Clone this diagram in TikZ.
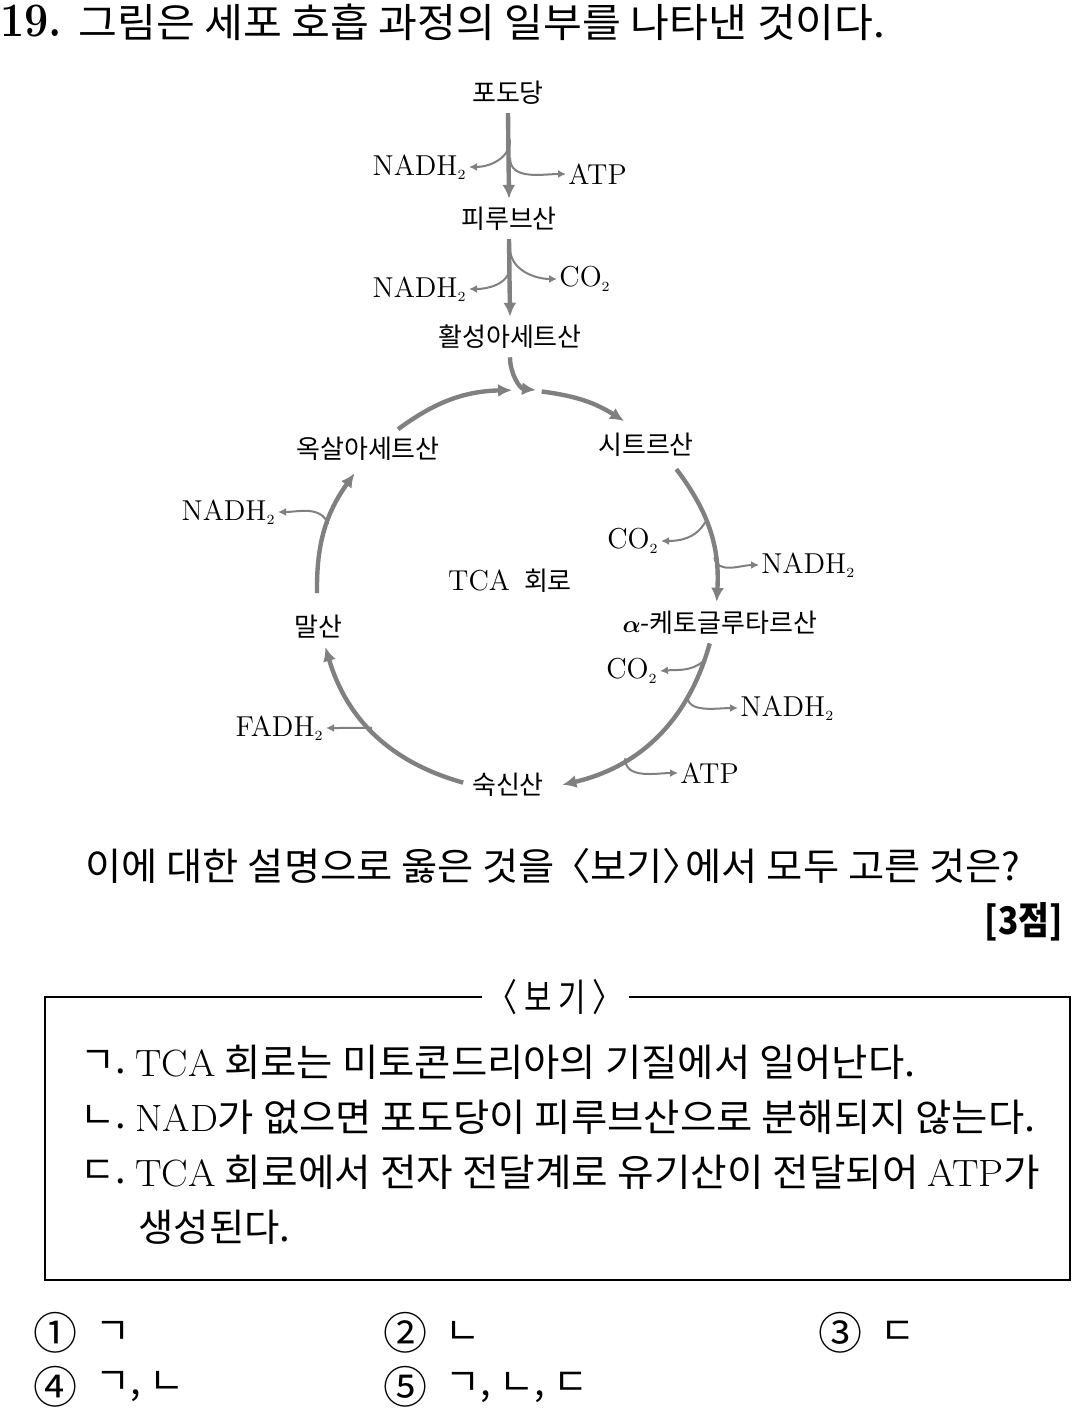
\documentclass[tikz,border=0pt]{standalone}
\usepackage{fontspec}
\usepackage{amsmath}
\usepackage{graphicx}
\newfontfamily\kr{Noto Sans CJK KR}
\usepackage{xcolor}
\definecolor{flowgray}{RGB}{128,128,128}
\usepackage{tikz}
\usetikzlibrary{arrows.meta, calc}
\tikzstyle{metabolite} = [
    font=\kr\fontsize{13}{15}\selectfont,
    inner sep=4pt,
]
\tikzstyle{product} = [
    font=\fontsize{14.4}{16}\selectfont,
    inner sep=1pt,
]
\tikzstyle{mainflow} = [
    draw=flowgray, line width=2.2pt,
    -{Latex[length=7pt,width=6.5pt]},
]
\tikzstyle{sideflow} = [
    draw=flowgray, line width=1pt,
    -{Latex[length=4pt,width=4pt]},
]
\tikzstyle{exam} = [
    font=\kr\fontsize{19}{22}\selectfont,
    inner sep=0pt,
]
\newcommand{\nadh}{NADH$_{\scriptscriptstyle 2}$}
\newcommand{\fadh}{FADH$_{\scriptscriptstyle 2}$}
\newcommand{\cotwo}{CO$_{\scriptscriptstyle 2}$}

\begin{document}
\begin{tikzpicture}[x=0.5pt, y=0.5pt]
    \useasboundingbox (0,0) rectangle (1073,-1412);

    % question
    \node (num) [anchor=base west, inner sep=0pt, font=\bfseries\fontsize{24}{28}\selectfont] at (0,-37) {\resizebox{31pt}{\height}{19.}};
    \node (title) [exam, anchor=west, font=\kr\fontsize{20}{24}\selectfont] at (78,-22) {\resizebox{403.5pt}{\height}{그림은 세포 호흡 과정의 일부를 나타낸 것이다.}};

    % boxes
    \node (glc) at (508,-93) [metabolite] {포도당};
    \node (pyr) at (509,-219) [metabolite] {피루브산};
    \node (acoa) at (510,-337) [metabolite] {활성아세트산};
    \node (oaa) at (368,-449) [metabolite] {옥살아세트산};
    \node (cit) at (646,-445) [metabolite] {시트르산};
    \node (akg) at (720,-623) [metabolite] {$\boldsymbol{\alpha}$-케토글루타르산};
    \node (suc) at (508,-785) [metabolite] {숙신산};
    \node (mal) at (318,-627) [metabolite] {말산};
    \node (tca) at (510,-581) [product] {TCA\hspace{7pt}{\kr\fontsize{13}{15}\selectfont 회로}};

    \node (nadh1) at (469,-167) [product, anchor=east] {\nadh};
    \node (atp1) at (566,-174) [product, anchor=west] {ATP};
    \node (nadh2) at (469,-289) [product, anchor=east] {\nadh};
    \node (co2a) at (557,-279) [product, anchor=west] {\cotwo};
    \node (nadh3) at (278,-512) [product, anchor=east] {\nadh};
    \node (co2b) at (661,-541) [product, anchor=east] {\cotwo};
    \node (nadh4) at (759,-565) [product, anchor=west] {\nadh};
    \node (co2c) at (660,-671) [product, anchor=east] {\cotwo};
    \node (nadh5) at (738,-708) [product, anchor=west] {\nadh};
    \node (atp2) at (678,-773) [product, anchor=west] {ATP};
    \node (fadh) at (326,-728) [product, anchor=east] {\fadh};

    % points on the cycle
    \coordinate (C) at (517,-590);
    \foreach \name/\ang in {j-l/91.4, oaa-o/126.5, j-r/82.9, cit-i/57.6, cit-o/37.2,
        akg-i/-3.4, akg-o/-15.5, suc-i/-76.9, suc-o/-105.6, mal-i/-163.4,
        mal-o/-179.1, oaa-i/-215.7, b5/160.8, b6/19.8, b7/9.4, b8/-20.7,
        b9/-31.3, b10/-57.3, b11/-136.4} {
        \coordinate (\name) at ($(C)+(\ang:200)$);
    }
    \coordinate (j-m) at (536,-390);
    \coordinate (b1) at (510,-140);
    \coordinate (b2) at (510,-158);
    \coordinate (b3) at (510,-266);
    \coordinate (b4) at (510,-248);

    % arrows
    \draw [mainflow] (glc.south) -- (pyr.north);
    \draw [mainflow] (pyr.south) -- (acoa.north);
    \draw [mainflow] (acoa.south) to[out=-90, in=175] (j-m);
    \foreach \src/\dst/\bend in {oaa-o/j-l/17.5, j-r/cit-i/12.6, cit-o/akg-i/20.3,
        akg-o/suc-i/30.7, suc-o/mal-i/28.9, mal-o/oaa-i/18.3} {
        \draw [mainflow] (\src) to[bend left=\bend] (\dst);
    }

    \draw [sideflow] (b1) to[out=-90, in=0] (nadh1.east);
    \draw [sideflow] (b2) to[out=-90, in=180] (atp1.west);
    \draw [sideflow] (b3) to[out=-90, in=0] (nadh2.east);
    \draw [sideflow] (b4) to[out=-90, in=180] (co2a.west);
    \draw [sideflow] (b5) to[out=110, in=0] (nadh3.east);
    \draw [sideflow] (b6) to[out=-120, in=0] (co2b.east);
    \draw [sideflow] (b7) to[out=-80, in=180] (nadh4.west);
    \draw [sideflow] (b8) to[out=-140, in=5] (co2c.east);
    \draw [sideflow] (b9) to[out=-100, in=180] (nadh5.west);
    \draw [sideflow] (b10) to[out=-90, in=180] (atp2.west);
    \draw [sideflow] (b11) to[out=180, in=0] (fadh.east);

    % ask
    \node (ask) [exam, anchor=west] at (85,-866) {\resizebox{467.5pt}{\height}{이에 대한 설명으로 옳은 것을\hspace{-2pt}〈보기〉\hspace{-8pt}에서 모두 고른 것은?}};
    \node (pts) [exam, anchor=east, font=\kr\bfseries\fontsize{19}{22}\selectfont] at (1063,-922) {\resizebox{39pt}{\height}{[3점]}};

    % bogi
    \node (frame) [draw, line width=1pt, minimum width=512.5pt, minimum height=141.5pt, inner sep=0pt] at (557.5,-1138.5) {};
    \node (bogi) [exam, fill=white, inner xsep=3pt] at (555,-997) {\resizebox{67.5pt}{\height}{〈 보 기 〉}};

    \node (s1) [exam, anchor=west] at (80,-1062) {ㄱ.};
    \node (t1) [exam, anchor=west] at (135,-1062) {\resizebox{390pt}{\height}{{\rmfamily TCA} 회로는 미토콘드리아의 기질에서 일어난다.}};
    \node (s2) [exam, anchor=west] at (80,-1117) {ㄴ.};
    \node (t2) [exam, anchor=west] at (135,-1117) {\resizebox{450pt}{\height}{{\rmfamily NAD}가 없으면 포도당이 피루브산으로 분해되지 않는다.}};
    \node (s3) [exam, anchor=west] at (80,-1172) {ㄷ.};
    \node (t3) [exam, anchor=west] at (135,-1172) {\resizebox{452.5pt}{\height}{{\rmfamily TCA} 회로에서 전자 전달계로 유기산이 전달되어 {\rmfamily ATP}가}};
    \node (t4) [exam, anchor=west] at (138,-1227) {\resizebox{76pt}{\height}{생성된다.}};

    % choices
    \foreach \num/\ans/\x/\y [count=\i] in {①/ㄱ/55/1333, ②/ㄴ/405/1333, ③/ㄷ/840/1333,
        ④/{ㄱ, ㄴ}/55/1387, ⑤/{ㄱ, ㄴ, ㄷ}/405/1387} {
        \node (num\i) [exam, font=\kr\fontsize{22}{26}\selectfont] at (\x,-\y) {\num};
        \node (ans\i) [exam, anchor=west] at (\x+40,-\y) {\ans};
    }
\end{tikzpicture}
\end{document}
